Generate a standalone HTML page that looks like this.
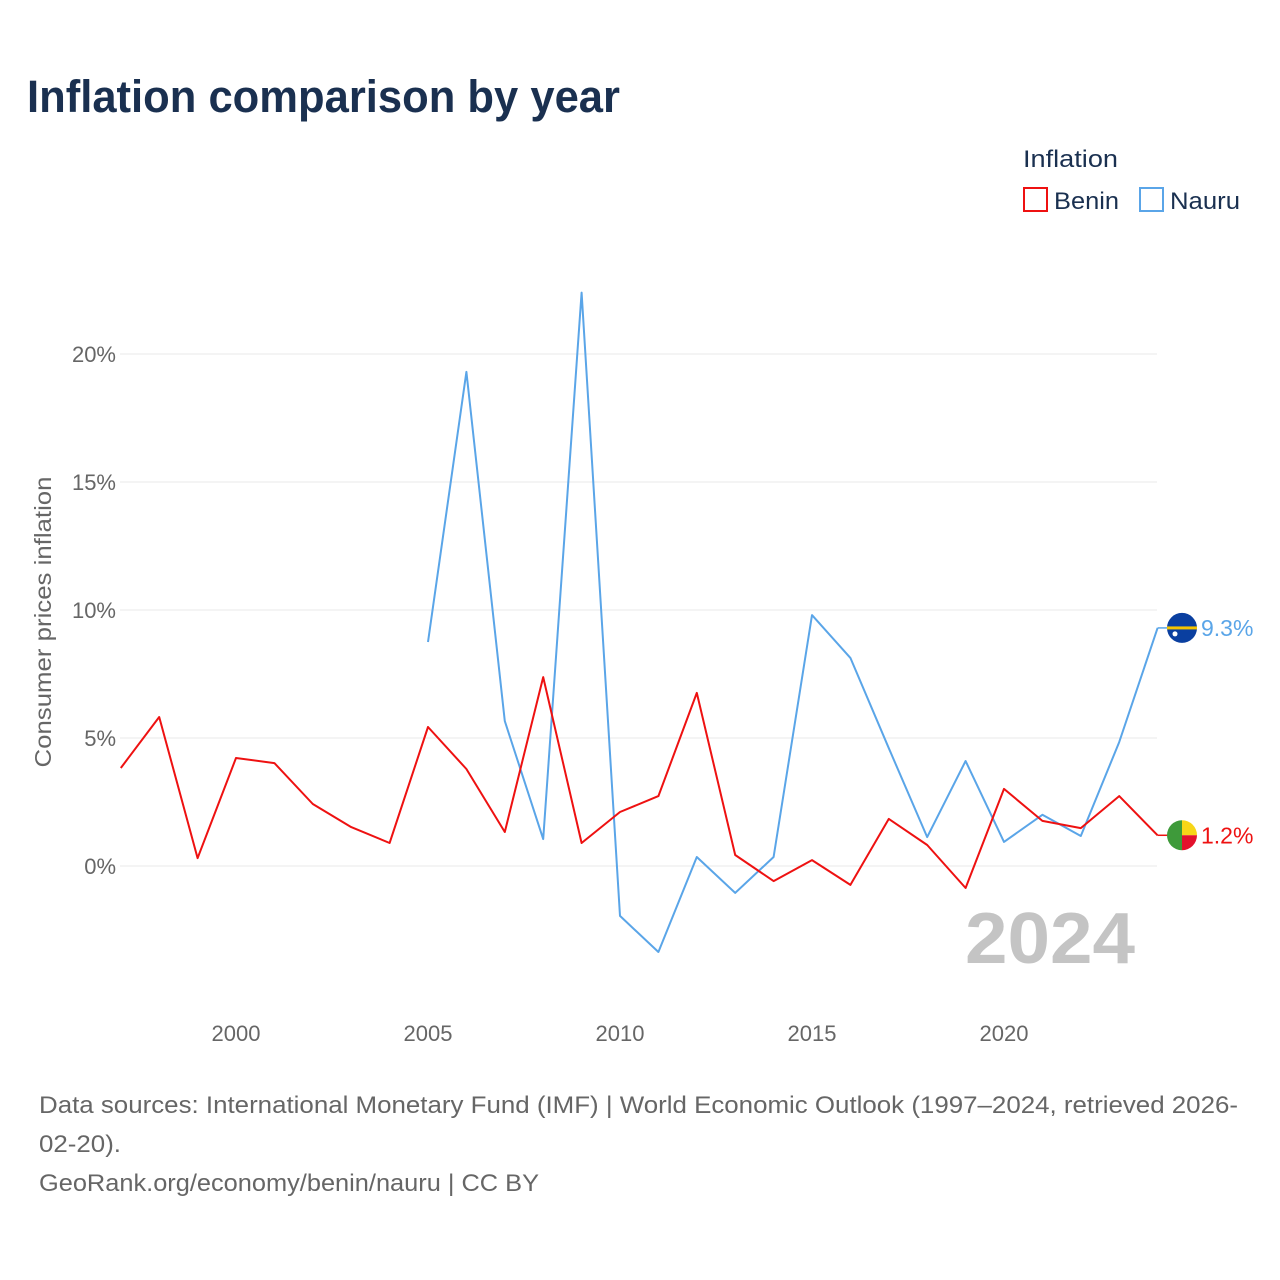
<!DOCTYPE html>
<html><head><meta charset="utf-8"><style>
body{margin:0;background:#fff;font-family:"Liberation Sans",sans-serif;}
#wrap{position:relative;width:1280px;height:1280px;overflow:hidden;}
</style></head><body>
<div id="wrap">
<svg id="chart" width="1280" height="1280">
<text x="27" y="112" font-size="45" font-weight="bold" fill="#1a3050" textLength="593" lengthAdjust="spacingAndGlyphs">Inflation comparison by year</text>
<g>
<text x="1023" y="167" font-size="24" fill="#1a3050" textLength="95" lengthAdjust="spacingAndGlyphs">Inflation</text>
<g><rect x="1024" y="188" width="23" height="23" fill="none" stroke="#ee1111" stroke-width="2"/><text x="1054" y="209" font-size="24" fill="#1a3050" textLength="65" lengthAdjust="spacingAndGlyphs">Benin</text></g>
<g><rect x="1140" y="188" width="23" height="23" fill="none" stroke="#5aa5e8" stroke-width="2"/><text x="1170" y="209" font-size="24" fill="#1a3050" textLength="70" lengthAdjust="spacingAndGlyphs">Nauru</text></g>
</g>
<text transform="translate(51,622) rotate(-90)" text-anchor="middle" font-size="23" fill="#666" textLength="291" lengthAdjust="spacingAndGlyphs">Consumer prices inflation</text>
<g id="grid"></g>
<g id="yt"></g>
<g id="xt"></g>
<text x="1135" y="963" text-anchor="end" font-size="72" font-weight="bold" fill="#c4c4c4" textLength="170" lengthAdjust="spacingAndGlyphs">2024</text>
<g id="series"></g>
<text x="39" y="1113" font-size="24" fill="#666" textLength="1199" lengthAdjust="spacingAndGlyphs">Data sources: International Monetary Fund (IMF) | World Economic Outlook (1997–2024, retrieved 2026-</text>
<text x="39" y="1152" font-size="24" fill="#666" textLength="82" lengthAdjust="spacingAndGlyphs">02-20).</text>
<text x="39" y="1191" font-size="24" fill="#666" textLength="500" lengthAdjust="spacingAndGlyphs">GeoRank.org/economy/benin/nauru | CC BY</text>
</svg>
</div>
<script>
const years=[1997,1998,1999,2000,2001,2002,2003,2004,2005,2006,2007,2008,2009,2010,2011,2012,2013,2014,2015,2016,2017,2018,2019,2020,2021,2022,2023,2024];
const benin=[3.83,5.82,0.31,4.22,4.02,2.42,1.52,0.9,5.43,3.79,1.33,7.38,0.9,2.11,2.73,6.76,0.43,-0.59,0.23,-0.74,1.84,0.82,-0.86,3.01,1.76,1.48,2.73,1.2];
const nauru=[null,null,null,null,null,null,null,null,8.75,19.3,5.66,1.05,22.4,-1.95,-3.36,0.35,-1.05,0.35,9.8,8.13,4.6,1.13,4.1,0.94,2.0,1.17,4.84,9.3];
const yTicks=[0,5,10,15,20];
const xTicks=[2000,2005,2010,2015,2020];
const NS="http://www.w3.org/2000/svg";
const x=v=>236+(v-2000)*38.4;
const y=v=>866-v*25.6;
function mk(t,a,p){const e=document.createElementNS(NS,t);for(const k in a)e.setAttribute(k,a[k]);p.appendChild(e);return e;}
const grid=document.getElementById('grid'),yt=document.getElementById('yt'),xt=document.getElementById('xt'),ser=document.getElementById('series');
yTicks.forEach(v=>{
 const l=mk('line',{x1:120,x2:1157,y1:y(v),y2:y(v),stroke:'#e8e8e8','stroke-width':1},grid);
 
 
 const t=mk('text',{x:116,y:y(v)+8,'text-anchor':'end','font-size':22,fill:'#666'},yt);
 t.textContent=v+'%';
 
 
});
xTicks.forEach(v=>{
 const t=mk('text',{x:x(v),y:1041,'text-anchor':'middle','font-size':22,fill:'#666'},xt);
 t.textContent=v;
 
 
});
function line(vals,color,name){
 let d='';let pen=false;
 vals.forEach((v,i)=>{if(v==null){pen=false;return;}d+=(pen?'L':'M')+x(years[i]).toFixed(1)+','+y(v).toFixed(1);pen=true;});
 const p=mk('path',{d:d,fill:'none',stroke:color,'stroke-width':2,'stroke-linejoin':'round'},ser);
 
 
 const last=vals[vals.length-1];const ly=y(last);
 mk('line',{x1:x(2024),x2:1168,y1:ly,y2:ly,stroke:color,'stroke-width':1.5},ser);
 const lab=mk('text',{x:1201,y:ly+8,'font-size':23,fill:color},ser);
 lab.textContent=last.toFixed(1)+'%';
 
 
 return ly;
}
line(nauru,'#5aa5e8','nauru');
line(benin,'#ee1111','benin');
const ny=y(nauru[nauru.length-1]);
const nf=mk('g',{},ser);


mk('circle',{cx:1182,cy:ny,r:15,fill:'#0a3fa0'},nf);
mk('rect',{x:1167,y:ny-1.5,width:30,height:3,fill:'#f5c400'},nf);
mk('circle',{cx:1175,cy:ny+6,r:2.5,fill:'#fff'},nf);
const by=y(benin[benin.length-1]);
const bf=mk('g',{},ser);


mk('path',{d:`M1182,${by-15}A15,15 0 0,0 1182,${by+15}Z`,fill:'#3e9a3a'},bf);
mk('path',{d:`M1182,${by-15}A15,15 0 0,1 1197,${by}L1182,${by}Z`,fill:'#f7d618'},bf);
mk('path',{d:`M1182,${by}L1197,${by}A15,15 0 0,1 1182,${by+15}Z`,fill:'#e3122c'},bf);
</script>
</body></html>
